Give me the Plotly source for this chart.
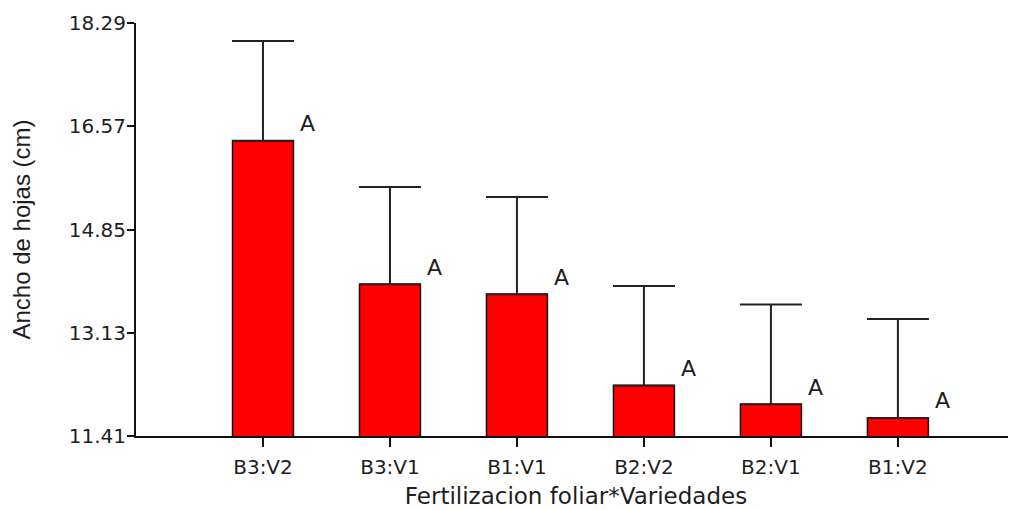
import plotly.graph_objects as go

categories = ["B3:V2", "B3:V1", "B1:V1", "B2:V2", "B2:V1", "B1:V2"]
means = [16.33, 13.94, 13.77, 12.25, 11.94, 11.71]
upper = [17.99, 15.56, 15.39, 13.91, 13.60, 13.36]
letters = ["A", "A", "A", "A", "A", "A"]
y_ticks = [11.41, 13.13, 14.85, 16.57, 18.29]

err_plus = [u - m for u, m in zip(upper, means)]

WIDE = "DejaVu Sans, Verdana, sans-serif"
ARIAL = "Liberation Sans, Arial, sans-serif"
INK = "#1e1e1e"

fig = go.Figure()
fig.add_trace(go.Bar(
    x=categories, y=means,
    base=0,
    marker=dict(color="#ff0000", line=dict(color="#111111", width=1.5)),
    width=0.48,
    error_y=dict(type="data", symmetric=False, array=err_plus,
                 arrayminus=[0] * len(means), color="#222222",
                 thickness=2, width=31),
    showlegend=False,
))

for c, m, t in zip(categories, means, letters):
    fig.add_annotation(x=c, y=m, text=t, showarrow=False,
                       xshift=45, yshift=17,
                       font=dict(family=WIDE, size=22, color=INK))

tick_font = dict(family=WIDE, size=20, color=INK)
fig.update_layout(
    width=1008, height=502,
    margin=dict(l=128, r=0, t=15, b=74),
    paper_bgcolor="white", plot_bgcolor="white",
    xaxis=dict(
        range=[-1.0, 5.93], showline=True, linecolor="#111111", linewidth=2,
        ticks="outside", ticklen=9, tickwidth=2, tickcolor="#111111",
        tickfont=tick_font, showgrid=False, zeroline=False,
        ticklabelstandoff=3,
        title=dict(text="Fertilizacion foliar*Variedades",
                   font=dict(family=WIDE, size=23, color=INK),
                   standoff=10),
    ),
    yaxis=dict(
        range=[11.41, 18.29], showline=True, linecolor="#111111", linewidth=2,
        ticks="outside", ticklen=7, tickwidth=2, tickcolor="#111111",
        tickvals=y_ticks, ticktext=[f"{v:.2f}" for v in y_ticks],
        tickfont=tick_font, showgrid=False, zeroline=False,
        ticklabelstandoff=-3,
        title=dict(text="Ancho de hojas (cm)",
                   font=dict(family=ARIAL, size=24, color=INK),
                   standoff=32),
    ),
)

fig.write_html("out.html")
